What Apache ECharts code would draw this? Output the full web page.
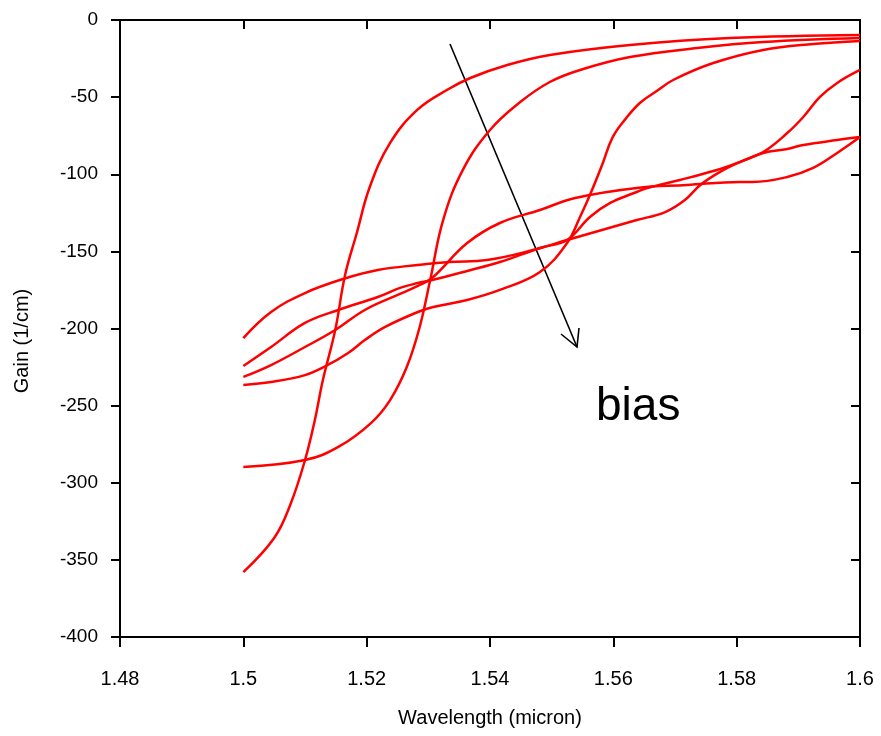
<!DOCTYPE html>
<html>
<head>
<meta charset="utf-8">
<script src="https://cdn.jsdelivr.net/npm/echarts@6/dist/echarts.min.js"></script>
<style>
html,body{margin:0;padding:0;background:#fff;}
#chart{width:881px;height:736px;}
</style>
</head>
<body>
<div id="chart"></div>
<script>
// X ticks (wavelength, micron) and Y ticks (gain, 1/cm)
const xTicks = [1.48, 1.5, 1.52, 1.54, 1.56, 1.58, 1.6];
const yTicks = [0, -50, -100, -150, -200, -250, -300, -350, -400];

// Curves: [wavelength, gain]
const curveA = [[1.500,-357.9],[1.5050,-335.8],[1.5076,-314.4],[1.5100,-285.3],[1.5116,-259.3],[1.5129,-233.4],[1.5149,-201.0],[1.5165,-165.3],[1.5184,-138.1],[1.5205,-108.3],[1.5238,-79.7],[1.5282,-58.3],[1.5330,-45.4],[1.5368,-37.6],[1.5428,-29.2],[1.5497,-22.7],[1.5627,-16.2],[1.5789,-11.7],[1.600,-9.7]];
const curveB = [[1.500,-289.8],[1.5100,-285.3],[1.5154,-276.8],[1.5207,-261.3],[1.5238,-246.4],[1.5265,-225.0],[1.5286,-199.0],[1.5303,-168.6],[1.5324,-129.7],[1.5356,-97.2],[1.5400,-71.3],[1.5449,-53.2],[1.5497,-40.2],[1.5546,-32.4],[1.5627,-24.0],[1.5736,-18.2],[1.5843,-14.3],[1.600,-11.7]];
const curveC = [[1.500,-236.6],[1.5045,-234.7],[1.5100,-230.2],[1.5134,-224.3],[1.5170,-215.9],[1.5197,-207.5],[1.5230,-199.0],[1.5283,-189.3],[1.5308,-186.1],[1.5363,-181.5],[1.5416,-175.0],[1.5481,-163.4],[1.5525,-144.6],[1.5546,-127.7],[1.5562,-113.5],[1.5583,-92.7],[1.5599,-75.9],[1.5621,-63.5],[1.5643,-53.8],[1.5668,-46.7],[1.5697,-38.9],[1.5762,-27.9],[1.5843,-19.4],[1.5924,-15.6],[1.600,-13.6]];
const curveD = [[1.500,-206.2],[1.5045,-189.3],[1.5100,-177.0],[1.5162,-167.9],[1.5218,-162.1],[1.5283,-158.8],[1.5335,-156.9],[1.5395,-155.6],[1.5470,-149.1],[1.5525,-142.6],[1.5638,-129.7],[1.5684,-124.5],[1.5716,-116.7],[1.5741,-107.0],[1.5773,-98.5],[1.5805,-92.1],[1.5843,-85.6],[1.5882,-73.3],[1.5908,-62.9],[1.5935,-49.9],[1.5963,-40.8],[1.600,-32.4]];
const curveE = [[1.500,-224.3],[1.5045,-212.0],[1.5100,-196.4],[1.5154,-188.0],[1.5218,-179.6],[1.5254,-173.7],[1.5283,-170.5],[1.5306,-168.6],[1.5363,-162.7],[1.5416,-156.9],[1.5481,-147.8],[1.5525,-142.6],[1.5562,-127.7],[1.5595,-118.6],[1.5638,-111.5],[1.5655,-108.9],[1.5708,-103.7],[1.5768,-97.2],[1.5805,-92.1],[1.5843,-86.2],[1.5882,-83.6],[1.5908,-81.0],[1.5963,-77.8],[1.600,-75.9]];
const curveF = [[1.500,-231.4],[1.5045,-223.7],[1.5100,-212.0],[1.5149,-201.0],[1.5197,-188.0],[1.5254,-177.6],[1.5283,-172.4],[1.5306,-167.3],[1.5363,-144.6],[1.5416,-131.6],[1.5481,-123.2],[1.5538,-115.4],[1.5638,-108.9],[1.5719,-107.0],[1.5805,-105.0],[1.5826,-105.0],[1.5882,-101.8],[1.5924,-95.9],[1.5963,-86.2],[1.600,-75.9]];

const curves = [curveA, curveB, curveC, curveD, curveE, curveF];

const chart = echarts.init(document.getElementById('chart'), null, {renderer: 'canvas'});
const font = '"Liberation Sans", Arial, sans-serif';
const fmtX = v => String(+(+v).toFixed(2));

const option = {
  animation: false,
  backgroundColor: '#fff',
  grid: {left: 120, right: 21, top: 20, bottom: 99, containLabel: false},
  xAxis: [{
    type: 'value', min: 1.48, max: 1.6, interval: 0.02,
    axisLine: {show: true, onZero: false, lineStyle: {color: '#000', width: 2}},
    axisTick: {show: true, inside: false, length: 10, lineStyle: {color: '#000', width: 2}},
    axisLabel: {show: true, margin: 32, color: '#000', fontSize: 20, fontFamily: font, formatter: fmtX},
    splitLine: {show: false}
  }, {
    type: 'value', position: 'top', min: 1.48, max: 1.6, interval: 0.02,
    axisLine: {show: true, onZero: false, lineStyle: {color: '#000', width: 2}},
    axisTick: {show: true, inside: true, length: 9, lineStyle: {color: '#000', width: 2}},
    axisLabel: {show: false}, splitLine: {show: false}
  }],
  yAxis: [{
    type: 'value', min: -400, max: 0, interval: 50,
    axisLine: {show: true, onZero: false, lineStyle: {color: '#000', width: 2}},
    axisTick: {show: true, inside: false, length: 9, lineStyle: {color: '#000', width: 2}},
    axisLabel: {show: true, margin: 22, color: '#000', fontSize: 19, fontFamily: font},
    splitLine: {show: false}
  }, {
    type: 'value', position: 'right', min: -400, max: 0, interval: 50,
    axisLine: {show: true, onZero: false, lineStyle: {color: '#000', width: 2}},
    axisTick: {show: true, inside: true, length: 9, lineStyle: {color: '#000', width: 2}},
    axisLabel: {show: false}, splitLine: {show: false}
  }],
  series: curves.map(c => ({
    type: 'line', data: c, xAxisIndex: 0, yAxisIndex: 0,
    showSymbol: false, smooth: 0.4,
    lineStyle: {color: '#ff0000', width: 2.5},
    emphasis: {disabled: true}, silent: true
  })),
  graphic: [
    {type: 'text', x: 490, y: 718, style: {text: 'Wavelength (micron)', fill: '#000', font: '20px ' + font, textAlign: 'center', textVerticalAlign: 'middle'}},
    {type: 'text', x: 22, y: 341, rotation: Math.PI / 2, style: {text: 'Gain (1/cm)', fill: '#000', font: '20px ' + font, textAlign: 'center', textVerticalAlign: 'middle'}},
    {type: 'line', shape: {x1: 450, y1: 44, x2: 577, y2: 347}, style: {stroke: '#000', lineWidth: 1.6}},
    {type: 'polyline', shape: {points: [[561, 334], [577, 347], [579, 328]]}, style: {stroke: '#000', lineWidth: 1.6, fill: null}},
    {type: 'text', x: 596, y: 430, style: {text: 'bias', fill: '#000', font: '46px ' + font, textVerticalAlign: 'bottom'}}
  ]
};
chart.setOption(option);
</script>
</body>
</html>
